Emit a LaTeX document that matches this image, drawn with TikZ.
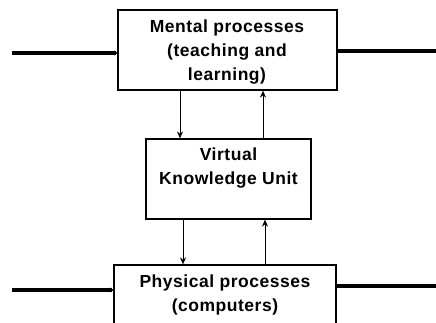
\documentclass[tikz,border=0pt]{standalone}
\usepackage{fontspec}
\setmainfont{Liberation Sans}[LetterSpace=3]
\usetikzlibrary{arrows.meta}
\begin{document}
\begin{tikzpicture}[x=1pt,y=-1pt,
  box/.style={draw,line width=1.2pt,minimum width=#1,inner sep=0pt,fill=white},
  txt/.style={align=center,font=\fontsize{17.5}{24}\selectfont\bfseries,inner sep=0pt},
  thin/.style={line width=1pt,-{Stealth[length=7pt,width=6pt]}},
  thick/.style={line width=3.5pt},
  thickarr/.style={line width=3.5pt,-{Stealth[length=3pt,width=5pt]}}]
\useasboundingbox (0,0) rectangle (436,322);
\clip (0,0) rectangle (436,322);
% boxes
\node[box=219pt,minimum height=80pt] (mp) at (227.5,50) {};
\node[txt] (mpt) at (227,52) {Mental processes\\(teaching and\\learning)};
\node[box=165pt,minimum height=80pt] (vku) at (228.5,179) {};
\node[txt] (vkut) at (228.5,168.5) {Virtual\\Knowledge Unit};
\node[box=222pt,minimum height=66pt] (pp) at (225,298) {};
\node[txt] (ppt) at (225,295) {Physical processes\\(computers)};
% external lines
\coordinate (inA) at (12,53);
\coordinate (outA) at (436,51);
\coordinate (inB) at (12,290);
\coordinate (outB) at (436,286);
\draw[thickarr] (inA) -- (inA -| mp.west);
\draw[thick] (outA -| mp.east) -- (outA);
\draw[thickarr] (inB) -- (inB -| pp.west);
\draw[thick] (outB -| pp.east) -- (outB);
% internal arrows
\coordinate (c1) at (180,0);
\coordinate (c2) at (263,0);
\coordinate (c3) at (183,0);
\coordinate (c4) at (265,0);
\draw[thin] (mp.south -| c1) -- (vku.north -| c1);
\draw[thin] (vku.north -| c2) -- (mp.south -| c2);
\draw[thin] (vku.south -| c3) -- (pp.north -| c3);
\draw[thin] (pp.north -| c4) -- (vku.south -| c4);
\end{tikzpicture}
\end{document}
